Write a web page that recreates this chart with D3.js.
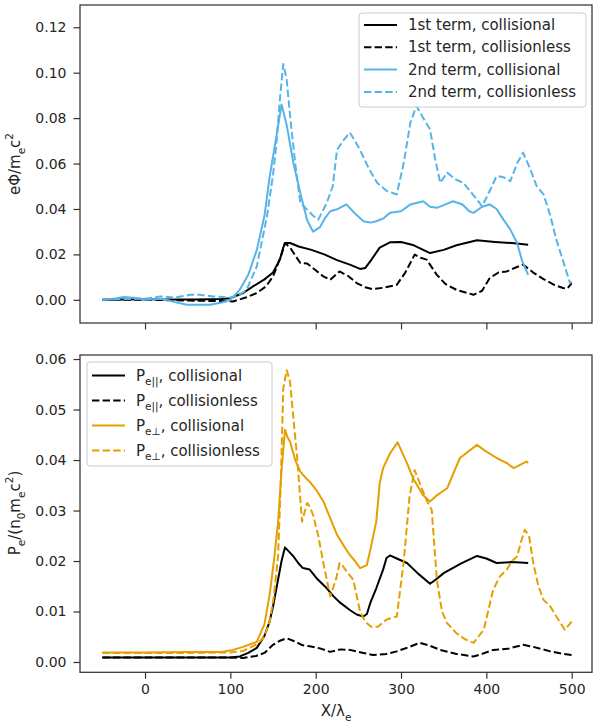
<!DOCTYPE html>
<html>
<head>
<meta charset="utf-8">
<script src="https://cdn.jsdelivr.net/npm/d3@7"></script>
<style>
  body { margin: 0; background: #fff; }
  text { font-family: "DejaVu Sans", sans-serif; fill: #262626; }
</style>
</head>
<body>
<svg width="593" height="722"></svg>
<script>
// top panel: potential terms, [x, value]
const term1Coll = [[-50,0],[-30,0.0002],[0,0.0003],[30,0.0002],[60,0.0002],[90,0.0004],[100,0.0007],[115,0.003],[127,0.006],[140,0.009],[150,0.012],[158,0.0177],[162,0.023],[164,0.025],[170,0.025],[180,0.0235],[195,0.022],[210,0.02],[225,0.0175],[240,0.0155],[252,0.0136],[258,0.014],[265,0.0175],[275,0.023],[287,0.0253],[300,0.0255],[315,0.024],[334,0.0206],[350,0.022],[365,0.024],[389,0.0262],[410,0.0255],[430,0.025],[449,0.0243]];
const term1Less = [[-50,0],[0,0],[50,-0.0003],[80,-0.0005],[103,-0.0007],[118,0.001],[131,0.003],[142,0.006],[150,0.0103],[156,0.016],[160,0.02],[164,0.025],[170,0.023],[177,0.019],[182,0.0162],[190,0.016],[200,0.013],[209,0.0103],[217,0.0088],[228,0.0125],[238,0.0105],[248,0.0074],[258,0.0055],[267,0.0047],[279,0.0053],[295,0.0066],[305,0.012],[316,0.0199],[323,0.0185],[330,0.0177],[342,0.011],[352,0.007],[365,0.0044],[385,0.0022],[395,0.004],[404,0.0096],[414,0.012],[424,0.0125],[433,0.014],[443,0.0155],[455,0.012],[467,0.0091],[480,0.0065],[490,0.0052],[495,0.005],[500,0.0074]];
const term2Coll = [[-50,0],[-35,0.0006],[-25,0.0012],[-10,0.0008],[2,0],[21,0.0005],[35,-0.001],[49,-0.0022],[62,-0.0022],[76,-0.0022],[90,-0.0012],[100,0],[111,0.0044],[121,0.011],[131,0.022],[140,0.037],[146,0.054],[154,0.072],[160,0.086],[166,0.077],[174,0.06],[182,0.047],[190,0.035],[197,0.030],[205,0.032],[211,0.036],[217,0.039],[226,0.04],[236,0.042],[246,0.038],[256,0.0346],[264,0.034],[271,0.0346],[280,0.036],[287,0.0383],[300,0.039],[311,0.042],[326,0.0434],[334,0.041],[342,0.0405],[352,0.042],[361,0.0434],[372,0.042],[380,0.039],[385,0.0383],[395,0.041],[404,0.042],[412,0.04],[420,0.0353],[428,0.031],[436,0.025],[442,0.017],[449,0.011]];
const term2Less = [[-50,0],[-30,0.0003],[0,0.0005],[18,0.0015],[35,0.001],[53,0.0022],[64,0.0022],[80,0.0015],[100,0.001],[110,0.002],[119,0.0044],[131,0.0147],[143,0.037],[150,0.055],[154,0.069],[158,0.088],[162,0.1038],[166,0.097],[170,0.081],[176,0.06],[182,0.0427],[190,0.0397],[197,0.037],[203,0.0353],[213,0.0427],[220,0.05],[225,0.066],[232,0.07],[240,0.0736],[246,0.07],[252,0.066],[262,0.058],[272,0.0515],[283,0.048],[295,0.0464],[303,0.06],[311,0.078],[318,0.0854],[326,0.08],[334,0.0751],[340,0.062],[346,0.0515],[354,0.056],[364,0.053],[373,0.0515],[385,0.046],[395,0.0412],[404,0.048],[412,0.0545],[420,0.054],[428,0.0522],[436,0.06],[443,0.0648],[451,0.058],[459,0.05],[467,0.0464],[475,0.037],[482,0.0265],[490,0.017],[498,0.0074],[500,0.008]];

// bottom panel: pressures, [x, value]
const parColl = [[-50,0.0009],[0,0.0009],[50,0.0009],[100,0.0009],[111,0.0011],[121,0.0018],[131,0.0028],[140,0.0052],[146,0.008],[150,0.011],[154,0.0146],[160,0.02],[164,0.0227],[169,0.0218],[174,0.0209],[180,0.0195],[185,0.0186],[193,0.0183],[201,0.0166],[213,0.0146],[221,0.013],[229,0.0117],[240,0.0103],[248,0.0094],[256,0.009],[260,0.0095],[264,0.0117],[271,0.0146],[279,0.0183],[283,0.0206],[287,0.0211],[295,0.0205],[307,0.0196],[320,0.0175],[334,0.0155],[342,0.0165],[350,0.0176],[370,0.0195],[389,0.0210],[400,0.0205],[412,0.0196],[430,0.0198],[449,0.0196]];
const parLess = [[-50,0.0009],[50,0.0009],[100,0.0009],[115,0.0008],[130,0.0012],[140,0.0018],[150,0.0034],[158,0.0042],[166,0.0047],[175,0.0041],[185,0.0033],[193,0.0031],[205,0.0027],[217,0.002],[229,0.0025],[240,0.0024],[256,0.0018],[267,0.0014],[283,0.0016],[295,0.0021],[310,0.003],[322,0.0038],[334,0.0032],[346,0.0024],[365,0.0016],[385,0.0011],[395,0.0016],[408,0.0024],[425,0.0026],[443,0.0034],[455,0.003],[475,0.0021],[490,0.0016],[500,0.0014]];
const perpColl = [[-50,0.0019],[0,0.0019],[50,0.002],[90,0.002],[103,0.0024],[115,0.003],[131,0.004],[140,0.0075],[146,0.0133],[151,0.02],[156,0.0278],[160,0.038],[164,0.046],[167,0.0445],[170,0.0436],[176,0.04],[182,0.0377],[188,0.0365],[193,0.0357],[201,0.034],[209,0.0318],[217,0.0285],[225,0.0252],[233,0.023],[240,0.0212],[246,0.02],[252,0.0186],[260,0.0192],[264,0.0222],[271,0.0278],[275,0.0354],[279,0.0384],[287,0.0413],[296,0.0435],[307,0.0394],[314,0.0364],[326,0.033],[334,0.0318],[342,0.033],[354,0.0344],[369,0.0404],[389,0.043],[397,0.042],[412,0.0404],[424,0.0394],[432,0.0384],[447,0.0397],[449,0.0394]];
const perpLess = [[-50,0.0018],[0,0.0018],[50,0.0018],[100,0.0019],[115,0.0022],[131,0.0035],[140,0.005],[146,0.008],[151,0.013],[156,0.0212],[159,0.035],[162,0.0542],[166,0.0578],[170,0.0555],[174,0.048],[178,0.041],[184,0.0278],[190,0.0315],[193,0.0308],[197,0.0291],[203,0.025],[209,0.0196],[217,0.013],[224,0.0165],[228,0.0196],[231,0.0192],[236,0.018],[244,0.0163],[252,0.01],[258,0.008],[265,0.007],[273,0.007],[283,0.0084],[295,0.009],[303,0.0196],[310,0.0328],[316,0.038],[322,0.0354],[330,0.032],[336,0.0301],[342,0.0163],[348,0.01],[354,0.0077],[365,0.0057],[375,0.0045],[385,0.0038],[397,0.0064],[408,0.0143],[416,0.017],[424,0.0183],[430,0.02],[436,0.0209],[441,0.024],[445,0.0262],[450,0.025],[455,0.0196],[461,0.015],[467,0.0123],[475,0.011],[482,0.009],[492,0.0064],[500,0.008]];

const xTicks = [0, 100, 200, 300, 400, 500];
const topTicks = [0, 0.02, 0.04, 0.06, 0.08, 0.10, 0.12];
const botTicks = [0, 0.01, 0.02, 0.03, 0.04, 0.05, 0.06];

const blue = '#56B4E9';
const orange = '#E69F00';
const spine = '#333333';

const svg = d3.select('svg');

const x = d3.scaleLinear().domain([-76.2, 523.8]).range([80, 592]);
const yTop = d3.scaleLinear().domain([-0.0102, 0.1298]).range([323, 5]);
const yBot = d3.scaleLinear().domain([-0.00204, 0.0608]).range([672.3, 355]);

// text with sub/superscripts: parts = [[text, 'sub'|'sup'|null], ...]
const richText = (sel, parts, size) => {
	let shift = 0;
	parts.forEach(([t, kind]) => {
		const want = kind === 'sub' ? size * 0.3 : kind === 'sup' ? -size * 0.45 : 0;
		const ts = sel.append('tspan').text(t).attr('dy', want - shift);
		if (kind) ts.attr('font-size', size * 0.7);
		shift = want;
	});
};

const panel = (y, ticks, series, showXLabels) => {
	const g = svg.append('g');
	const [y0, y1] = y.range();

	const xAxis = d3.axisBottom(x).tickValues(xTicks).tickSize(6.5).tickSizeOuter(0).tickPadding(5)
		.tickFormat(showXLabels ? d3.format('d') : '');
	const xg = g.append('g').attr('transform', `translate(0,${y0})`).call(xAxis);
	const yg = g.append('g').attr('transform', 'translate(80,0)')
		.call(d3.axisLeft(y).tickValues(ticks).tickSize(6.5).tickSizeOuter(0).tickPadding(7)
			.tickFormat(d3.format('.2f')));
	[xg, yg].forEach(a => {
		a.select('.domain').remove();
		a.selectAll('.tick line').attr('stroke', spine).attr('stroke-width', 1.2);
		a.selectAll('.tick text').attr('font-size', 14).attr('fill', '#262626')
			.style('font-family', '"DejaVu Sans", sans-serif');
	});

	const line = d3.line().x(d => x(d[0])).y(d => y(d[1]));
	series.forEach(s => {
		g.append('path').datum(s.data)
			.attr('d', line)
			.attr('fill', 'none')
			.attr('stroke', s.color)
			.attr('stroke-width', 2)
			.attr('stroke-linejoin', 'round')
			.attr('stroke-dasharray', s.dash ? '7.4,3.2' : null);
	});

	g.append('rect')
		.attr('x', 80).attr('y', y1)
		.attr('width', x.range()[1] - 80).attr('height', y0 - y1)
		.attr('fill', 'none').attr('stroke', spine).attr('stroke-width', 1.25);
	return g;
};

const legend = (g, box, items) => {
	g.append('rect')
		.attr('x', box.x).attr('y', box.y).attr('width', box.w).attr('height', box.h)
		.attr('rx', 3).attr('fill', '#fff').attr('fill-opacity', 0.85)
		.attr('stroke', '#cccccc').attr('stroke-width', 1);
	items.forEach((it, i) => {
		const cy = box.y + box.first + i * box.step;
		g.append('line')
			.attr('x1', box.x + 5).attr('x2', box.x + 38)
			.attr('y1', cy).attr('y2', cy)
			.attr('stroke', it.color).attr('stroke-width', 2)
			.attr('stroke-dasharray', it.dash ? '7.4,3.2' : null);
		const t = g.append('text')
			.attr('x', box.x + 49).attr('y', cy + 5)
			.attr('font-size', 15);
		richText(t, it.label, 15);
	});
};

const topSeries = [
	{data: term1Coll, color: '#000', dash: false, label: [['1st term, collisional', null]]},
	{data: term1Less, color: '#000', dash: true, label: [['1st term, collisionless', null]]},
	{data: term2Coll, color: blue, dash: false, label: [['2nd term, collisional', null]]},
	{data: term2Less, color: blue, dash: true, label: [['2nd term, collisionless', null]]},
];
const botSeries = [
	{data: parColl, color: '#000', dash: false, label: [['P', null], ['e||', 'sub'], [', collisional', null]]},
	{data: parLess, color: '#000', dash: true, label: [['P', null], ['e||', 'sub'], [', collisionless', null]]},
	{data: perpColl, color: orange, dash: false, label: [['P', null], ['e\u22a5', 'sub'], [', collisional', null]]},
	{data: perpLess, color: orange, dash: true, label: [['P', null], ['e\u22a5', 'sub'], [', collisionless', null]]},
];

const gTop = panel(yTop, topTicks, topSeries, false);
const gBot = panel(yBot, botTicks, botSeries, true);

legend(gTop, {x: 359, y: 13, w: 227, h: 94, first: 12, step: 22.3}, topSeries);
legend(gBot, {x: 87, y: 362, w: 185, h: 104, first: 13.5, step: 25}, botSeries);

// axis labels
const yl1 = svg.append('text')
	.attr('transform', 'translate(20,164) rotate(-90)')
	.attr('text-anchor', 'middle').attr('font-size', 15);
richText(yl1, [['e\u03a6/m', null], ['e', 'sub'], ['c', null], ['2', 'sup']], 15);

const yl2 = svg.append('text')
	.attr('transform', 'translate(20,513) rotate(-90)')
	.attr('text-anchor', 'middle').attr('font-size', 15);
richText(yl2, [['P', null], ['e', 'sub'], ['/(n', null], ['0', 'sub'], ['m', null], ['e', 'sub'], ['c', null], ['2', 'sup'], [')', null]], 15);

const xl = svg.append('text')
	.attr('x', 336).attr('y', 716)
	.attr('text-anchor', 'middle').attr('font-size', 15);
richText(xl, [['X/\u03bb', null], ['e', 'sub']], 15);
</script>
</body>
</html>
